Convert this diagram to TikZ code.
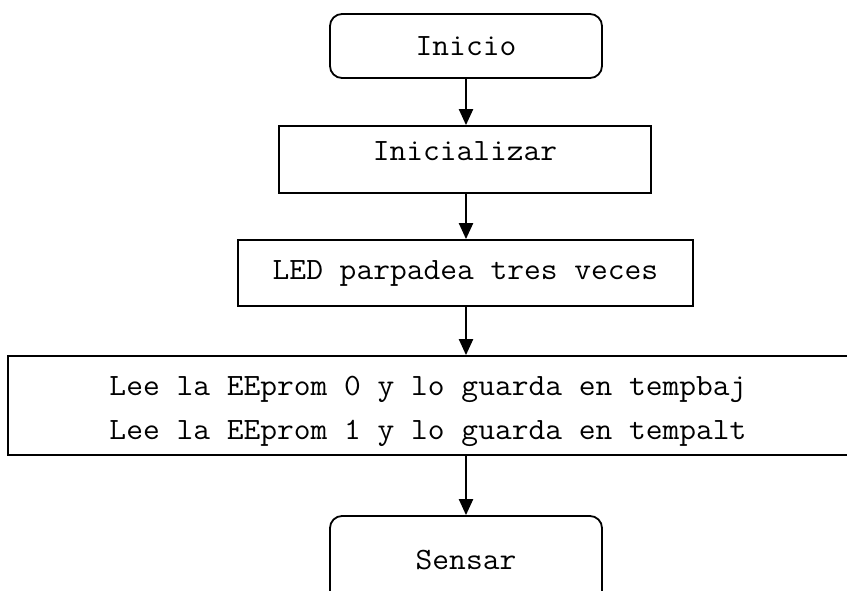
\documentclass[tikz,border=0pt]{standalone}
\usepackage{fontspec}
\newfontfamily\cour{Latin Modern Mono}[FakeStretch=1.05]
\usetikzlibrary{arrows.meta}
\tikzset{
  termbox/.style={draw, rounded corners=12pt, line width=1.8pt, inner sep=0pt,
    font=\cour\fontsize{31}{44}\selectfont},
  procbox/.style={draw, line width=1.8pt, inner sep=0pt,
    font=\cour\fontsize{31}{44}\selectfont},
  txt/.style={inner sep=0pt, font=\cour\fontsize{31}{44}\selectfont},
  arr/.style={line width=2.2pt, -{Triangle[width=14pt,length=16pt]}}
}
\begin{document}
\begin{tikzpicture}[x=1pt,y=-1pt]
\useasboundingbox (0,0) rectangle (847,590);
\clip (0,0) rectangle (847,590);
\node[termbox, minimum width=272pt, minimum height=64pt] (inicio) at (466,46) {Inicio};
\node[procbox, minimum width=372pt, minimum height=67pt] (init) at (465,159.5) {};
\node[txt] (initT) at ([yshift=8pt]init.center) {Inicializar};
\node[procbox, minimum width=840pt, minimum height=99pt, align=center, text depth=0pt] (lee) at (428,405.5) {};
\node[procbox, minimum width=455pt, minimum height=66pt] (led) at (465.5,273) {LED parpadea tres veces};
\node[txt] (lee1) at (428,389) {Lee la EEprom 0 y lo guarda en tempbaj};
\node[txt] (lee2) at (428,433) {Lee la EEprom 1 y lo guarda en tempalt};
\node[termbox, minimum width=272pt, minimum height=88pt] (sensar) at (466,560) {Sensar};
\draw[arr] (inicio.south) -- (init.north -| inicio.south);
\draw[arr] (init.south -| inicio.south) -- (led.north -| inicio.south);
\draw[arr] (led.south -| inicio.south) -- (lee.north -| inicio.south);
\draw[arr] (lee.south -| inicio.south) -- (sensar.north);
\end{tikzpicture}
\end{document}
